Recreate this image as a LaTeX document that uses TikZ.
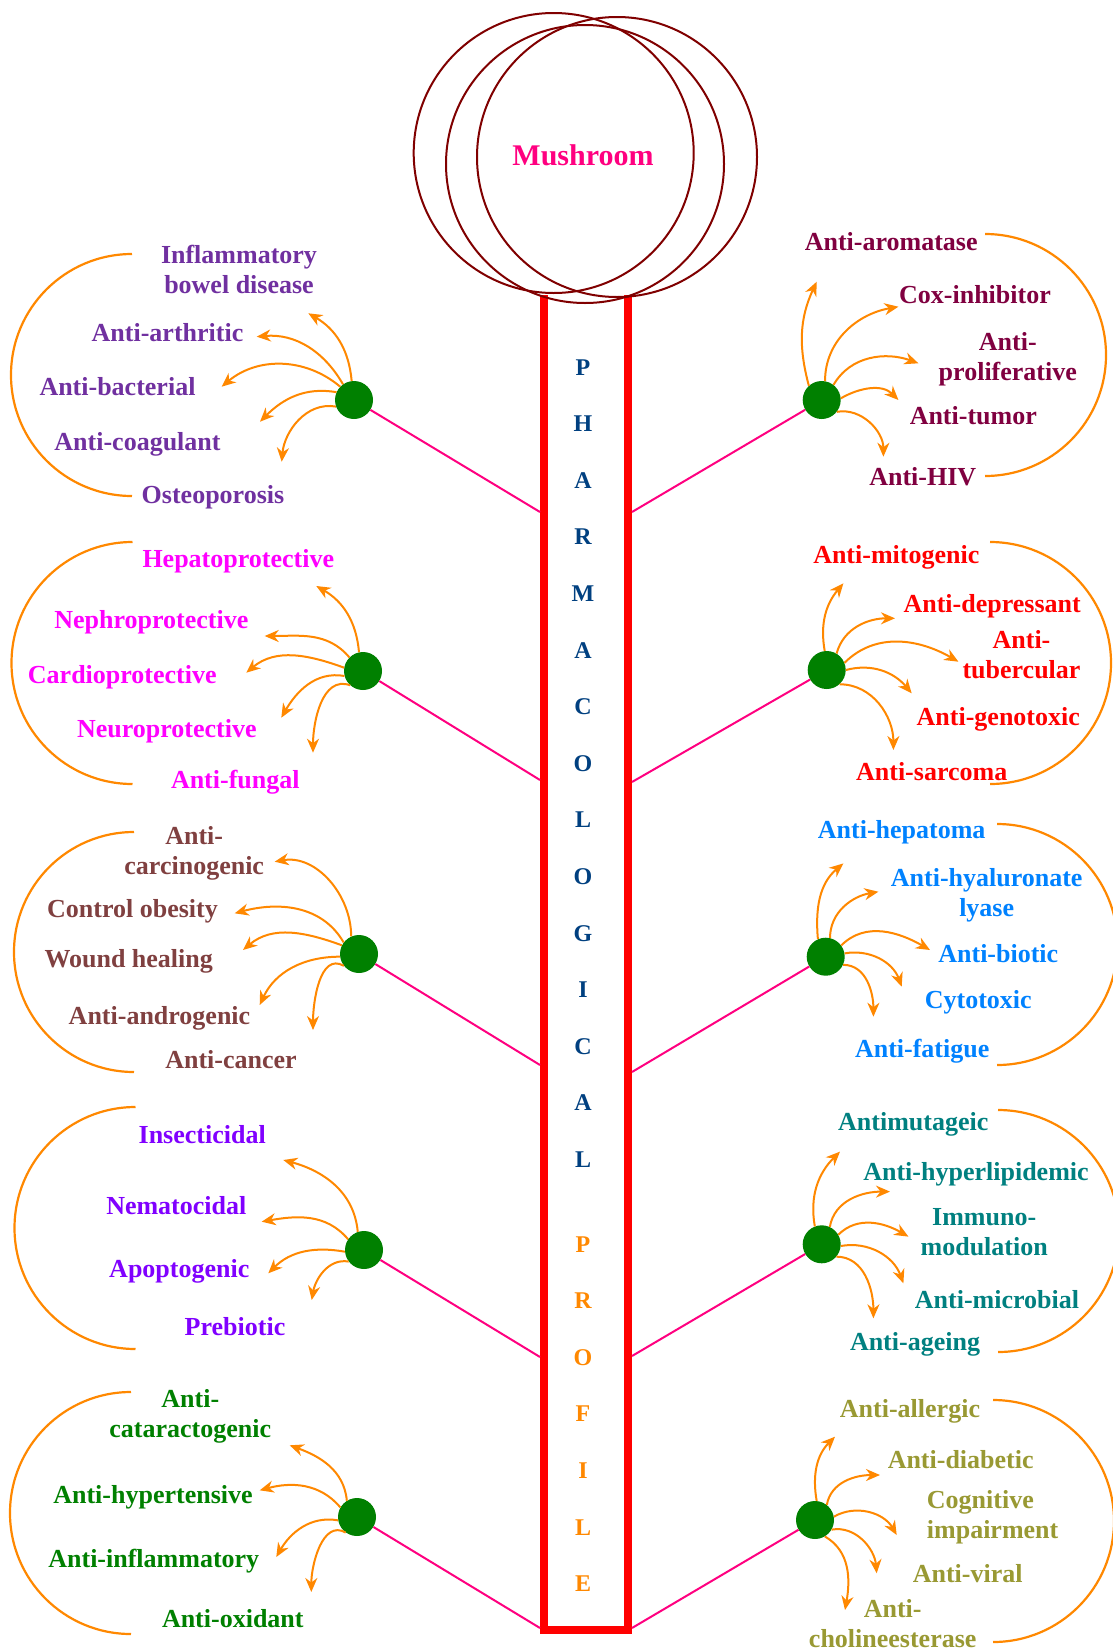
\documentclass[tikz,border=0pt]{standalone}
\usepackage{fontspec}
\setmainfont{Liberation Serif}
\usetikzlibrary{arrows.meta}

\definecolor{ringred}{RGB}{128,0,0}
\definecolor{stemred}{RGB}{255,0,0}
\definecolor{linkpink}{RGB}{255,0,128}
\definecolor{arcorange}{RGB}{255,136,0}
\definecolor{hubgreen}{RGB}{0,128,0}
\definecolor{stemblue}{RGB}{0,64,128}
\definecolor{cPurple}{RGB}{112,48,160}
\definecolor{cMaroon}{RGB}{128,0,64}
\definecolor{cMagenta}{RGB}{255,0,255}
\definecolor{cRed}{RGB}{255,0,0}
\definecolor{cBrown}{RGB}{128,64,64}
\definecolor{cBlue}{RGB}{0,130,255}
\definecolor{cViolet}{RGB}{128,0,255}
\definecolor{cTeal}{RGB}{0,128,128}
\definecolor{cGreen}{RGB}{0,128,0}
\definecolor{cOlive}{RGB}{153,153,51}

% two-line labels, first baseline on the anchor
\newcommand\twoC[2]{\begin{tabular}[t]{@{}c@{}}#1\\#2\end{tabular}}
\newcommand\twoL[2]{\begin{tabular}[t]{@{}l@{}}#1\\#2\end{tabular}}
% curved arrow leaving a hub: hub, border angle, out, in, end offset
\newcommand\branch[5]{\draw[arr] (#1.#2) to[out=#3,in=#4] ([shift={#5}]#1.center);}

\begin{document}
\begin{tikzpicture}[x=1pt,y=1pt,
  lbl/.style={font=\fontsize{26}{30}\selectfont\bfseries, anchor=base, inner sep=0pt},
  hub/.style={circle, fill=hubgreen, minimum size=38pt, inner sep=0pt},
  arr/.style={draw=arcorange, line width=2pt, -{Stealth[length=14pt,width=12pt,inset=4.5pt]}},
  ring/.style={draw=ringred, line width=2pt},
  link/.style={draw=linkpink, line width=2pt},
  hoop/.style={draw=arcorange, line width=2.2pt},
  stemletters/.style={font=\fontsize{24}{56.6}\selectfont\bfseries, anchor=base, inner sep=0pt}]

\fill[white] (0,0) rectangle (1113,-1652);
\useasboundingbox (0,0) rectangle (1113,-1652);

% stem
\draw[stemred, line width=8pt, line join=miter]
  (544,-295) -- (544,-1630) -- (627.5,-1630) -- (627.5,-295);

% cap rings
\draw[ring] (553.7,-153) circle[radius=140];
\draw[ring] (585,-164) circle[radius=139];
\draw[ring] (617,-157) circle[radius=140];
\node[font=\fontsize{30}{36}\selectfont\bfseries, text=linkpink, anchor=base, inner sep=0pt]
  (cap) at (583,-165) {Mushroom};

% stem lettering
\node[stemletters, text=stemblue] (word1) at (583,-375)
  {\begin{tabular}[t]{@{}c@{}}P\\H\\A\\R\\M\\A\\C\\O\\L\\O\\G\\I\\C\\A\\L\end{tabular}};
\node[stemletters, text=arcorange] (word2) at (583,-1252)
  {\begin{tabular}[t]{@{}c@{}}P\\R\\O\\F\\I\\L\\E\end{tabular}};

% junctions on the stem
\coordinate (sl1) at (540,-512);
\coordinate (sl2) at (540,-780);
\coordinate (sl3) at (540,-1065);
\coordinate (sl4) at (540,-1357);
\coordinate (sl5) at (540,-1628);
\coordinate (sr1) at (632,-512);
\coordinate (sr2) at (632,-782);
\coordinate (sr3) at (632,-1072);
\coordinate (sr4) at (632,-1356);
\coordinate (sr5) at (632,-1628);

% hubs
\node[hub] (L1) at (354,-400) {};
\node[hub] (L2) at (363,-671) {};
\node[hub] (L3) at (359,-954) {};
\node[hub] (L4) at (364,-1250) {};
\node[hub] (L5) at (357,-1517) {};
\node[hub] (R1) at (821.7,-400) {};
\node[hub] (R2) at (826.7,-670) {};
\node[hub] (R3) at (825.7,-956.7) {};
\node[hub] (R4) at (821.7,-1244.3) {};
\node[hub] (R5) at (815,-1520) {};

\foreach \i in {1,...,5}{
  \draw[link] (L\i) -- (sl\i);
  \draw[link] (R\i) -- (sr\i);
}

% enclosing half hoops
\draw[hoop] (132,-254) arc[start angle=90, end angle=270, radius=121];
\draw[hoop] (132.5,-542) arc[start angle=90, end angle=270, radius=121];
\draw[hoop] (134,-832) arc[start angle=90, end angle=270, radius=120];
\draw[hoop] (135.5,-1107) arc[start angle=90, end angle=270, radius=121];
\draw[hoop] (131,-1392) arc[start angle=90, end angle=270, radius=121];
\draw[hoop] (985,-234) arc[start angle=90, end angle=-90, radius=121];
\draw[hoop] (990,-542) arc[start angle=90, end angle=-90, radius=121];
\draw[hoop] (997,-824) arc[start angle=90, end angle=-90, radius=120.5];
\draw[hoop] (998,-1110) arc[start angle=90, end angle=-90, radius=121];
\draw[hoop] (993,-1400) arc[start angle=90, end angle=-90, radius=121];

% branches, left side
\branch{L1}{97}{95}{-30}{(-45.7,86.7)}
\branch{L1}{125}{120}{5}{(-97.3,63.3)}
\branch{L1}{136}{140}{40}{(-132.3,13.3)}
\branch{L1}{156}{170}{45}{(-94,-21.7)}
\branch{L1}{200}{170}{85}{(-72.3,-61.7)}

\branch{L2}{102}{95}{-30}{(-46.7,85)}
\branch{L2}{135}{130}{0}{(-98.3,35)}
\branch{L2}{170}{160}{40}{(-116.7,-1.7)}
\branch{L2}{195}{170}{60}{(-81.7,-46.7)}
\branch{L2}{228}{160}{90}{(-50,-81.7)}

\branch{L3}{114}{90}{10}{(-84.3,92.3)}
\branch{L3}{143}{120}{15}{(-124.3,40.7)}
\branch{L3}{153}{160}{40}{(-116,4)}
\branch{L3}{188}{180}{65}{(-99.3,-51)}
\branch{L3}{218}{150}{90}{(-46,-76)}

\branch{L4}{109}{95}{-15}{(-80.7,90)}
\branch{L4}{146}{130}{10}{(-102.3,28.3)}
\branch{L4}{185}{170}{45}{(-95.7,-23.3)}
\branch{L4}{217}{170}{80}{(-52.3,-50)}

\branch{L5}{122}{95}{-20}{(-67.3,71.7)}
\branch{L5}{150}{130}{15}{(-97.3,26.7)}
\branch{L5}{190}{170}{60}{(-80.7,-40)}
\branch{L5}{234}{150}{90}{(-45.7,-75)}

% branches, right side
\branch{R1}{132}{105}{-115}{(-5,118.3)}
\branch{R1}{80}{90}{-170}{(76.7,93.3)}
\branch{R1}{52}{60}{160}{(96.7,36.7)}
\branch{R1}{5}{30}{135}{(76.7,0)}
\branch{R1}{-38}{10}{90}{(61.7,-56.7)}

\branch{R2}{96}{100}{-130}{(16.7,86.7)}
\branch{R2}{59}{75}{180}{(68.3,51.7)}
\branch{R2}{22}{45}{150}{(131.7,8.3)}
\branch{R2}{0}{15}{130}{(85,-23.3)}
\branch{R2}{-48}{0}{90}{(66.7,-80)}

\branch{R3}{114}{95}{-140}{(17.7,93.3)}
\branch{R3}{77}{90}{-170}{(52.7,65)}
\branch{R3}{36}{45}{150}{(104.3,6.7)}
\branch{R3}{10}{10}{110}{(76,-30)}
\branch{R3}{-25}{0}{90}{(47.7,-60)}

\branch{R4}{111}{100}{-135}{(18.3,92.7)}
\branch{R4}{65}{80}{180}{(68.3,52.7)}
\branch{R4}{30}{45}{150}{(86.7,7.7)}
\branch{R4}{-5}{10}{110}{(81.7,-39)}
\branch{R4}{-40}{0}{90}{(51.7,-74)}

\branch{R5}{85}{100}{-135}{(20,83.3)}
\branch{R5}{52}{80}{180}{(65,45)}
\branch{R5}{10}{30}{120}{(81.7,-15)}
\branch{R5}{-30}{10}{95}{(61.7,-53.3)}
\branch{R5}{-59}{-30}{80}{(30,-90)}

% labels, left side
\begin{scope}[every node/.style={lbl, text=cPurple}]
  \node (t11) at (239,-263) {\twoC{Inflammatory}{bowel disease}};
  \node (t12) at (167.5,-341) {Anti-arthritic};
  \node (t13) at (117.5,-395) {Anti-bacterial};
  \node (t14) at (137.5,-450) {Anti-coagulant};
  \node (t15) at (213,-503) {Osteoporosis};
\end{scope}
\begin{scope}[every node/.style={lbl, text=cMagenta}]
  \node (t21) at (238.3,-567) {Hepatoprotective};
  \node (t22) at (151.3,-628) {Nephroprotective};
  \node (t23) at (122.3,-683) {Cardioprotective};
  \node (t24) at (166.8,-737) {Neuroprotective};
  \node (t25) at (235.3,-788) {Anti-fungal};
\end{scope}
\begin{scope}[every node/.style={lbl, text=cBrown}]
  \node (t31) at (194.2,-844) {\twoC{Anti-}{carcinogenic}};
  \node (t32) at (132.5,-917) {Control obesity};
  \node (t33) at (128.7,-967) {Wound healing};
  \node (t34) at (159.5,-1024) {Anti-androgenic};
  \node (t35) at (231,-1068) {Anti-cancer};
\end{scope}
\begin{scope}[every node/.style={lbl, text=cViolet}]
  \node (t41) at (202.2,-1143) {Insecticidal};
  \node (t42) at (176.3,-1214) {Nematocidal};
  \node (t43) at (179.3,-1277) {Apoptogenic};
  \node (t44) at (235,-1335) {Prebiotic};
\end{scope}
\begin{scope}[every node/.style={lbl, text=cGreen}]
  \node (t51) at (190.3,-1407) {\twoC{Anti-}{cataractogenic}};
  \node (t52) at (153,-1503) {Anti-hypertensive};
  \node (t53) at (153.8,-1567) {Anti-inflammatory};
  \node (t54) at (232.8,-1627) {Anti-oxidant};
\end{scope}

% labels, right side
\begin{scope}[every node/.style={lbl, text=cMaroon}]
  \node (u11) at (891.2,-250) {Anti-aromatase};
  \node (u12) at (975,-303) {Cox-inhibitor};
  \node (u13) at (1007.8,-350) {\twoC{Anti-}{proliferative}};
  \node (u14) at (973.3,-424) {Anti-tumor};
  \node (u15) at (922.8,-485) {Anti-HIV};
\end{scope}
\begin{scope}[every node/.style={lbl, text=cRed}]
  \node (u21) at (896.3,-563) {Anti-mitogenic};
  \node (u22) at (992.2,-612) {Anti-depressant};
  \node (u23) at (1021.5,-648) {\twoC{Anti-}{tubercular}};
  \node (u24) at (998.3,-725) {Anti-genotoxic};
  \node (u25) at (931.7,-780) {Anti-sarcoma};
\end{scope}
\begin{scope}[every node/.style={lbl, text=cBlue}]
  \node (u31) at (901.7,-838) {Anti-hepatoma};
  \node (u32) at (986.7,-886) {\twoC{Anti-hyaluronate}{lyase}};
  \node (u33) at (998.3,-962) {Anti-biotic};
  \node (u34) at (978.3,-1008) {Cytotoxic};
  \node (u35) at (922.2,-1057) {Anti-fatigue};
\end{scope}
\begin{scope}[every node/.style={lbl, text=cTeal}]
  \node (u41) at (913.3,-1130) {Antimutageic};
  \node (u42) at (976,-1180) {Anti-hyperlipidemic};
  \node (u43) at (984.2,-1225) {\twoC{Immuno-}{modulation}};
  \node (u44) at (997,-1308) {Anti-microbial};
  \node (u45) at (915,-1350) {Anti-ageing};
\end{scope}
\begin{scope}[every node/.style={lbl, text=cOlive}]
  \node (u51) at (910,-1417) {Anti-allergic};
  \node (u52) at (960.7,-1468) {Anti-diabetic};
  \node[anchor=base west] (u53) at (926.7,-1508) {\twoL{Cognitive}{impairment}};
  \node (u54) at (967.7,-1582) {Anti-viral};
  \node (u55) at (892.7,-1617) {\twoC{Anti-}{cholineesterase}};
\end{scope}
\end{tikzpicture}
\end{document}
